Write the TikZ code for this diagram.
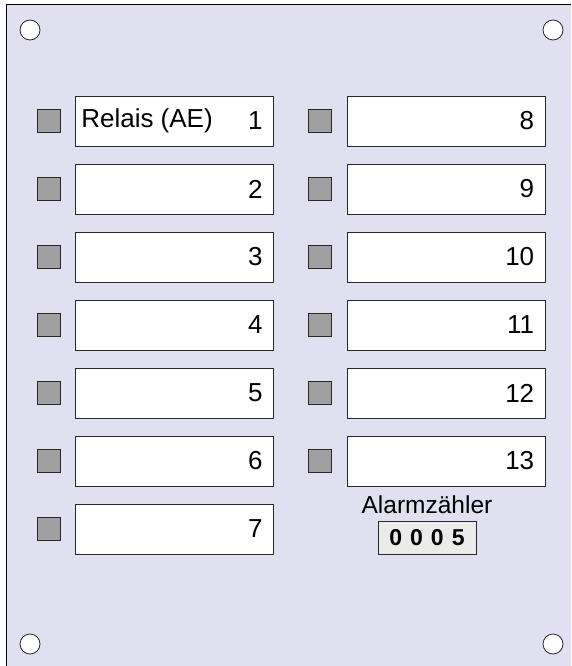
\documentclass[tikz,border=0pt]{standalone}
\usepackage{fontspec}
\setmainfont{Liberation Sans}
\definecolor{panel}{RGB}{224,224,240}
\definecolor{ledgray}{RGB}{160,160,160}
\definecolor{edge}{RGB}{40,40,40}
\tikzset{
  ledbox/.style={draw=edge, fill=ledgray, minimum size=23pt, inner sep=0pt, line width=0.8pt},
  labelbox/.style={draw=edge, fill=white, minimum width=198pt, minimum height=50pt, inner sep=0pt, line width=0.8pt},
  num/.style={anchor=east, font=\fontsize{26}{26}\selectfont, inner sep=0pt},
  txt/.style={font=\fontsize{26}{26}\selectfont, inner sep=0pt},
  alarmtxt/.style={font=\fontsize{24.5}{24.5}\selectfont, inner sep=0pt},
  hole/.style={circle, draw=edge, fill=white, minimum size=20pt, inner sep=0pt, line width=0.8pt},
  counter/.style={draw=edge, fill=black!8, minimum width=98pt, minimum height=33pt, inner sep=0pt, line width=0.8pt, font=\fontsize{23}{23}\selectfont\bfseries},
}
\begin{document}
\begin{tikzpicture}[x=1pt,y=-1pt]
\useasboundingbox (0,0) rectangle (571,666);
\fill[white] (0,0) rectangle (571,666);
\fill[panel] (6,5) rectangle (571,666);
\draw[black, line width=1pt] (6,666) -- (6,5) -- (571,5);
% mounting holes
\node[hole] (h1) at (30,30) {};
\node[hole] (h2) at (553,30) {};
\node[hole] (h3) at (30,644) {};
\node[hole] (h4) at (553,644) {};
% left column
\foreach \i in {1,...,7} {
  \pgfmathsetmacro{\yy}{121+68*(\i-1)}
  \node[ledbox] (led\i) at (49,\yy) {};
  \node[labelbox] (box\i) at (174.5,\yy) {};
  \node[num] (num\i) at ([xshift=-11pt]box\i.east) {\i};
}
% right column
\foreach \i in {8,...,13} {
  \pgfmathsetmacro{\yy}{121+68*(\i-8)}
  \node[ledbox] (led\i) at (320,\yy) {};
  \node[labelbox] (box\i) at (446,\yy) {};
  \node[num] (num\i) at ([xshift=-11pt]box\i.east) {\i};
}
\node[txt, anchor=west] (relais) at ([xshift=6pt]box1.west) {Relais (AE)};
\node[alarmtxt] (alarm) at (427,505) {Alarmzähler};
\node[counter] (count) at (427,537.5) {0\hspace{8pt}0\hspace{8pt}0\hspace{8pt}5};
\end{tikzpicture}
\end{document}
